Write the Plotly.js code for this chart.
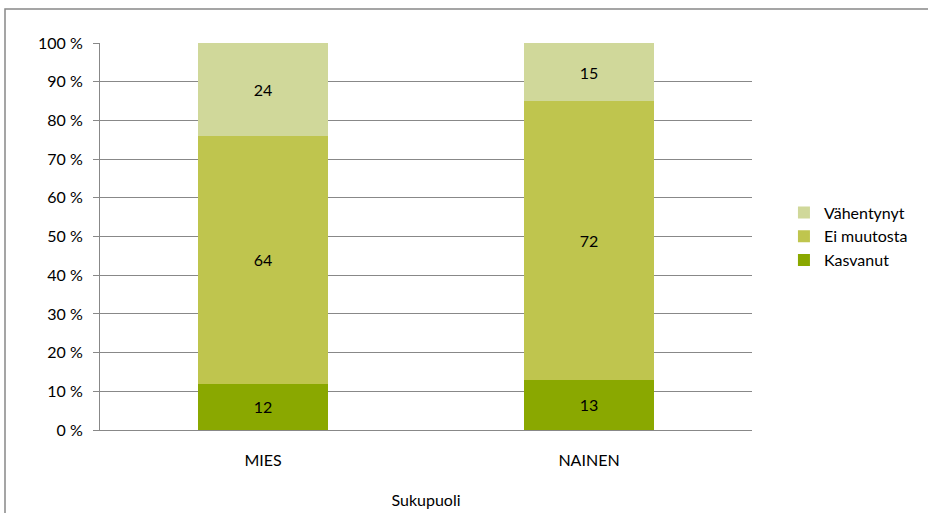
<!DOCTYPE html>
<html>
<head>
<meta charset="utf-8">
<script src="https://cdn.plot.ly/plotly-3.0.1.min.js"></script>
<style>html,body{margin:0;padding:0;background:#fff;}#chart{width:928px;height:513px;}</style>
</head>
<body>
<div id="chart"></div>
<script>
const categories = ["MIES", "NAINEN"];
const kasvanut = [12, 13];
const eiMuutosta = [64, 72];
const vahentynyt = [24, 15];
const seriesNames = ["Kasvanut", "Ei muutosta", "Vähentynyt"];
const yTickVals = [0, 10, 20, 30, 40, 50, 60, 70, 80, 90, 100];
const yTickText = ["0 %", "10 %", "20 %", "30 %", "40 %", "50 %", "60 %", "70 %", "80 %", "90 %", "100 %"];

const colors = ["#8AA800", "#BFC54E", "#D0D89A"];
const seriesData = [kasvanut, eiMuutosta, vahentynyt];
const font = "Lato, 'Open Sans', sans-serif";
const fs = 16;

const traces = seriesData.map((vals, i) => ({
  type: "bar",
  name: seriesNames[i],
  x: categories,
  y: vals,
  text: vals.map(String),
  textposition: "inside",
  insidetextanchor: "middle",
  textfont: {family: font, size: fs, color: "#000"},
  marker: {color: colors[i], line: {width: 0}},
  hoverinfo: "skip"
}));

const layout = {
  width: 928, height: 513,
  margin: {l: 100, r: 176, t: 43, b: 83, autoexpand: false},
  barmode: "stack",
  bargap: 0.6,
  paper_bgcolor: "#fff",
  plot_bgcolor: "#fff",
  font: {family: font, size: fs, color: "#000"},
  xaxis: {
    showgrid: false,
    showline: true, linecolor: "#888", linewidth: 1,
    ticks: "", ticklabelstandoff: 16,
    tickfont: {family: font, size: fs, color: "#000"},
    title: {text: "Sukupuoli", standoff: 26, font: {family: font, size: fs, color: "#000"}},
    fixedrange: true
  },
  yaxis: {
    range: [0, 100],
    tickmode: "array",
    tickvals: yTickVals,
    ticktext: yTickText,
    showgrid: true, gridcolor: "#888", gridwidth: 1,
    showline: true, linecolor: "#888", linewidth: 1,
    ticks: "outside", ticklen: 6, tickcolor: "#888",
    ticklabelstandoff: 7,
    tickfont: {family: font, size: fs, color: "#000"},
    zeroline: false,
    fixedrange: true
  },
  legend: {
    x: 1.049, y: 0.5, xanchor: "left", yanchor: "middle",
    traceorder: "reversed",
    font: {family: font, size: fs, color: "#000"},
    itemwidth: 30, tracegroupgap: 0
  },
  shapes: [{
    type: "rect", xref: "paper", yref: "paper",
    x0: (5 - 100) / 652, x1: (935 - 100) / 652,
    y0: -0.3, y1: (430 - 9) / 387,
    line: {color: "#888", width: 1.5}, fillcolor: "rgba(0,0,0,0)",
    layer: "below"
  }],
  showlegend: true
};

Plotly.newPlot("chart", traces, layout, {displayModeBar: false, staticPlot: true});
</script>
</body>
</html>
